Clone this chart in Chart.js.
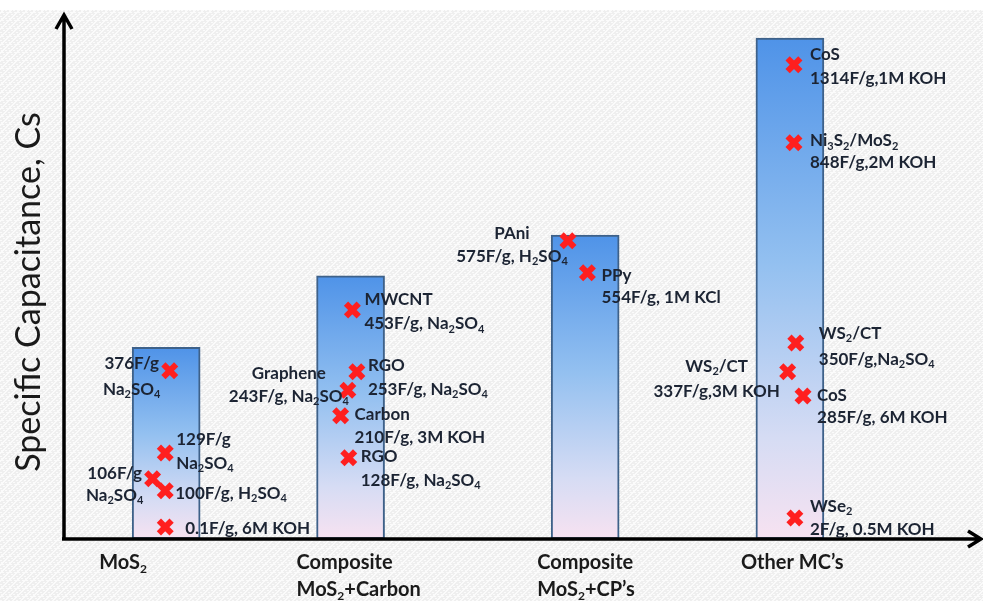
<!DOCTYPE html>
<html>
<head>
<meta charset="utf-8">
<script src="https://cdn.jsdelivr.net/npm/chart.js@4/dist/chart.umd.min.js"></script>
<style>
  html, body { margin: 0; padding: 0; background: #fff; }
  #wrap { width: 983px; height: 601px; position: relative; }
</style>
</head>
<body>
<div id="wrap"><canvas id="capChart" width="983" height="601"></canvas></div>
<script>
// categories and bar heights (axis units, 0-100 arbitrary height scale)
const categories = ['MoS_2', 'Composite\nMoS_2+Carbon', 'Composite\nMoS_2+CP’s', 'Other MC’s'];
const barX = [11.3, 31.7, 57.65, 80.3];
const barHeights = [36.6, 50.2, 58.0, 95.6];

// red markers: position on the same scales
const pointX = [11.7, 11.2, 9.8, 11.2, 11.2,
                31.9, 32.4, 31.4, 30.6, 31.5,
                55.75, 57.9,
                80.75, 80.75, 80.95, 80.05, 81.75, 80.85];
const pointY = [32.1, 16.4, 11.5, 9.2, 2.3,
                43.7, 31.9, 28.4, 23.5, 15.5,
                56.9, 50.8,
                90.5, 75.6, 37.4, 31.9, 27.3, 4.0];
const pointLabels = [
  ['376F/g', 'Na_2SO_4'], ['129F/g', 'Na_2SO_4'], ['106F/g', 'Na_2SO_4'],
  ['100F/g, H_2SO_4'], ['0.1F/g, 6M KOH'],
  ['MWCNT', '453F/g, Na_2SO_4'], ['RGO', '253F/g, Na_2SO_4'], ['Graphene', '243F/g, Na_2SO_4'],
  ['Carbon', '210F/g, 3M KOH'], ['RGO', '128F/g, Na_2SO_4'],
  ['PAni', '575F/g, H_2SO_4'], ['PPy', '554F/g, 1M KCl'],
  ['CoS', '1314F/g,1M KOH'], ['Ni_3S_2/MoS_2', '848F/g,2M KOH'], ['WS_2/CT', '350F/g,Na_2SO_4'],
  ['WS_2/CT', '337F/g,3M KOH'], ['CoS', '285F/g, 6M KOH'], ['WSe_2', '2F/g, 0.5M KOH']
];

// where each label sits relative to its marker (pixels)
const labelPlace = [
  {dx: -38, dy: -7, align: 'center', gap: 26}, {dx: 11, dy: -14, align: 'left', gap: 24},
  {dx: -38, dy: -5, align: 'center', gap: 22}, {dx: 10, dy: 3, align: 'left', gap: 0},
  {dx: 20, dy: 2, align: 'left', gap: 0},
  {dx: 12, dy: -10, align: 'left', gap: 24}, {dx: 11, dy: -6, align: 'left', gap: 24},
  {dx: -59, dy: -17, align: 'center', gap: 23}, {dx: 14, dy: -1, align: 'left', gap: 23},
  {dx: 12, dy: -1, align: 'left', gap: 24},
  {dx: -56, dy: -7, align: 'center', gap: 23}, {dx: 14, dy: 3, align: 'left', gap: 22},
  {dx: 16, dy: -10, align: 'left', gap: 24}, {dx: 16, dy: -2, align: 'left', gap: 22},
  {dx: 23, dy: -10, align: 'left', gap: 26}, {dx: -71, dy: -5, align: 'center', gap: 25},
  {dx: 14, dy: 0, align: 'left', gap: 22}, {dx: 15, dy: -12, align: 'left', gap: 23}
];
const catLabelDx = [-67, -54, -48, -49];

const FONT = 'Lato, "Open Sans", sans-serif';
const TEXT_COLOR = '#1c2433';

// text with _n subscripts
function drawRich(ctx, str, x, y, align, size, weight) {
  const parts = [];
  let buf = '';
  for (let i = 0; i < str.length; i++) {
    if (str[i] === '_' && i + 1 < str.length) {
      if (buf) parts.push({t: buf, sub: false});
      parts.push({t: str[i + 1], sub: true});
      buf = '';
      i++;
    } else {
      buf += str[i];
    }
  }
  if (buf) parts.push({t: buf, sub: false});
  const subSize = Math.round(size * 0.62);
  let total = 0;
  parts.forEach(p => {
    ctx.font = weight + ' ' + (p.sub ? subSize : size) + 'px ' + FONT;
    p.w = ctx.measureText(p.t).width;
    total += p.w;
  });
  let cx = x;
  if (align === 'center') cx = x - total / 2;
  else if (align === 'right') cx = x - total;
  ctx.textAlign = 'left';
  ctx.textBaseline = 'middle';
  parts.forEach(p => {
    ctx.font = weight + ' ' + (p.sub ? subSize : size) + 'px ' + FONT;
    ctx.fillText(p.t, cx, p.sub ? y + size * 0.3 : y);
    cx += p.w;
  });
}

function makePattern(ctx) {
  const c = document.createElement('canvas');
  c.width = 8; c.height = 8;
  const p = c.getContext('2d');
  p.fillStyle = '#efefef';
  p.fillRect(0, 0, 8, 8);
  p.fillStyle = '#fbfbfb';
  for (let i = 0; i < 8; i++) {
    p.fillRect(i, (i * 2) % 8, 2, 1);
    p.fillRect((i + 4) % 8, (8 - i) % 8, 1, 2);
  }
  return ctx.createPattern(c, 'repeat');
}

const backdrop = {
  id: 'backdrop',
  beforeDraw(chart) {
    const ctx = chart.ctx;
    ctx.save();
    ctx.fillStyle = '#ffffff';
    ctx.fillRect(0, 0, chart.width, chart.height);
    ctx.fillStyle = makePattern(ctx);
    ctx.fillRect(0, 10, chart.width, chart.height - 10);
    ctx.restore();
  }
};

const axesAndText = {
  id: 'axesAndText',
  afterDatasetsDraw(chart) {
    const ctx = chart.ctx;
    const {left, bottom} = chart.chartArea;
    ctx.save();
    ctx.strokeStyle = '#000';
    ctx.lineWidth = 3.5;
    ctx.lineJoin = 'miter';
    ctx.beginPath();
    ctx.moveTo(left, bottom);
    ctx.lineTo(left, 16);
    ctx.moveTo(left - 8, 29);
    ctx.lineTo(left, 15);
    ctx.lineTo(left + 8, 29);
    ctx.moveTo(left - 2, bottom);
    ctx.lineTo(980, bottom);
    ctx.moveTo(968, bottom - 8);
    ctx.lineTo(981, bottom);
    ctx.lineTo(968, bottom + 8);
    ctx.stroke();
    ctx.restore();
  },
  afterDraw(chart) {
    const ctx = chart.ctx;
    const xs = chart.scales.x, ys = chart.scales.y;
    ctx.save();
    ctx.fillStyle = TEXT_COLOR;
    pointLabels.forEach((lines, i) => {
      const px = xs.getPixelForValue(pointX[i]);
      const py = ys.getPixelForValue(pointY[i]);
      const pl = labelPlace[i];
      lines.forEach((ln, j) => {
        drawRich(ctx, ln, px + pl.dx, py + pl.dy + j * pl.gap, pl.align, 17, 'bold');
      });
    });
    // category labels
    ctx.fillStyle = '#1a1a1a';
    categories.forEach((c, i) => {
      const x = xs.getPixelForValue(barX[i]) + catLabelDx[i];
      c.split('\n').forEach((ln, j) => {
        drawRich(ctx, ln, x, 563 + j * 27, 'left', 20, 'bold');
      });
    });
    // y axis title
    ctx.translate(29, 292);
    ctx.rotate(-Math.PI / 2);
    ctx.fillStyle = '#1a1a1a';
    ctx.font = '34px ' + FONT;
    ctx.textAlign = 'center';
    ctx.textBaseline = 'middle';
    ctx.fillText('Specific Capacitance, Cs', 0, 0);
    ctx.restore();
  }
};

function barGradient(context) {
  const chart = context.chart;
  if (!chart.chartArea || context.type !== 'data') return '#5b9bea';
  const ys = chart.scales.y;
  const top = ys.getPixelForValue(context.raw.y);
  const bottom = ys.getPixelForValue(0);
  const g = chart.ctx.createLinearGradient(0, top, 0, bottom);
  g.addColorStop(0, '#4f93e8');
  g.addColorStop(0.45, '#93c0f0');
  g.addColorStop(0.8, '#d6dcf4');
  g.addColorStop(1, '#f7e2f1');
  return g;
}

const ctx = document.getElementById('capChart').getContext('2d');
const capChart = new Chart(ctx, {
  type: 'bar',
  data: {
    datasets: [{
      type: 'bar',
      order: 1,
      data: barX.map((x, i) => ({x: x, y: barHeights[i]})),
      backgroundColor: barGradient,
      borderColor: '#3e6189',
      borderWidth: 2,
      borderSkipped: false,
      barThickness: 68
    }, {
      type: 'scatter',
      order: 0,
      data: pointX.map((x, i) => ({x: x, y: pointY[i]})),
      pointStyle: 'crossRot',
      radius: 9,
      borderWidth: 6,
      borderColor: '#ff1f1f',
      backgroundColor: '#ff1f1f'
    }]
  },
  options: {
    responsive: false,
    animation: false,
    layout: { padding: { left: 64, top: 15, right: 1, bottom: 62 } },
    plugins: {
      legend: { display: false },
      tooltip: { enabled: false }
    },
    scales: {
      x: { type: 'linear', min: 0, max: 100, offset: false, display: false },
      y: { type: 'linear', min: 0, max: 100, display: false }
    }
  },
  plugins: [backdrop, axesAndText]
});
</script>
</body>
</html>
